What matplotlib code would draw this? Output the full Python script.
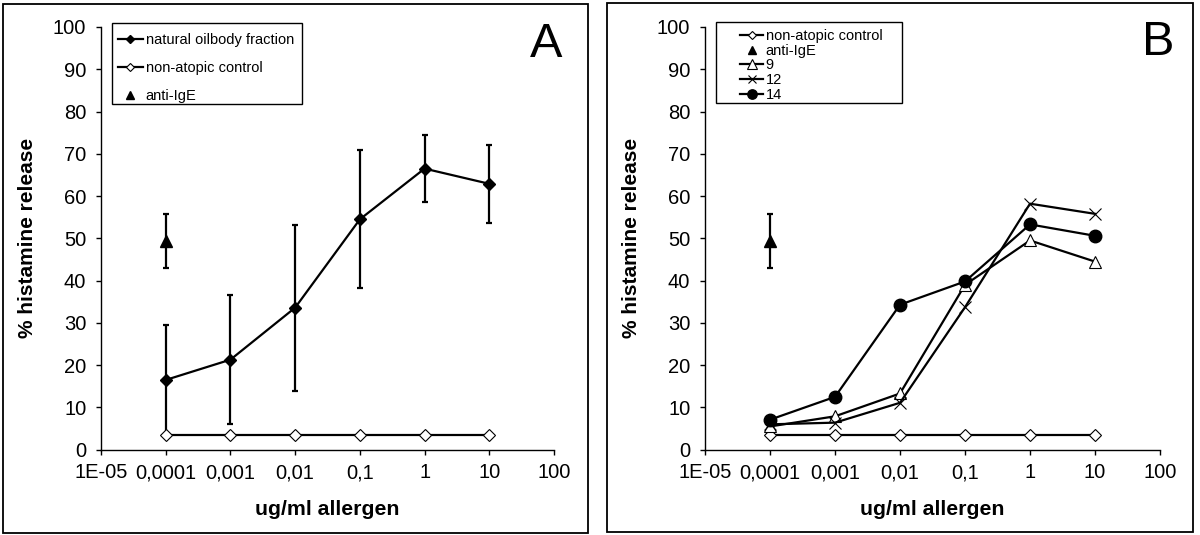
import matplotlib
matplotlib.use("Agg")
import matplotlib.pyplot as plt
from matplotlib.patches import Rectangle
from matplotlib.ticker import NullLocator

plt.rcParams['font.family'] = ['Liberation Sans', 'DejaVu Sans']

# allergen concentrations (ug/ml)
conc = [0.0001, 0.001, 0.01, 0.1, 1, 10]
tick_pos = [1e-5, 1e-4, 1e-3, 1e-2, 1e-1, 1, 10, 100]
tick_labels = ['1E-05', '0,0001', '0,001', '0,01', '0,1', '1', '10', '100']

# panel A
oilbody = [16.5, 21.3, 33.6, 54.5, 66.5, 62.9]
oilbody_err = [13.1, 15.3, 19.6, 16.3, 7.95, 9.3]
control = [3.5, 3.5, 3.5, 3.5, 3.5, 3.5]
anti_ige_x = [0.0001]
anti_ige = [49.4]
anti_ige_err = [6.4]

# panel B (patients 9, 12, 14)
pat9 = [5.5, 7.9, 13.3, 39.0, 49.5, 44.5]
pat12 = [6.0, 6.4, 11.1, 33.7, 58.2, 55.8]
pat14 = [7.1, 12.5, 34.3, 39.8, 53.3, 50.6]

W, H = 1200, 535


def fig_rect(x0, y0, x1, y1):
    # pixel box (top-left origin) -> figure fraction rect
    return [x0 / W, 1 - y1 / H, (x1 - x0) / W, (y1 - y0) / H]


def style_axes(ax):
    ax.set_xscale('log')
    ax.set_xlim(1e-5, 100)
    ax.set_ylim(0, 100)
    ax.set_xticks(tick_pos)
    ax.set_xticklabels(tick_labels)
    ax.xaxis.set_minor_locator(NullLocator())
    ax.set_yticks(range(0, 101, 10))
    for s in ['top', 'right']:
        ax.spines[s].set_visible(False)
    for s in ['left', 'bottom']:
        ax.spines[s].set_linewidth(1.0)
    ax.tick_params(direction='out', length=3.6, width=1.0, labelsize=14.5)
    ax.tick_params(axis='x', pad=6)
    ax.tick_params(axis='y', pad=7)
    ax.set_xlabel('ug/ml allergen', fontsize=15.3, fontweight='bold')
    ax.set_ylabel('% histamine release', fontsize=15, fontweight='bold')
    ax.xaxis.set_label_coords(0.5, -0.119)
    ax.yaxis.set_label_coords(-0.141, 0.5)


def plot_anti_ige(ax):
    ax.errorbar(anti_ige_x, anti_ige, yerr=anti_ige_err, fmt='none', ecolor='black',
                elinewidth=1.6, capsize=2, capthick=1.6, zorder=2)
    ax.plot(anti_ige_x, anti_ige, ls='none', marker='^', ms=8.5, color='black',
            zorder=5, label='anti-IgE')


def box(fig, x0, y0, x1, y1, lw):
    fig.add_artist(Rectangle((x0 / W, 1 - y1 / H), (x1 - x0) / W, (y1 - y0) / H,
                             transform=fig.transFigure, fill=False, ec='black', lw=lw))


fig = plt.figure(figsize=(12, 5.35), dpi=100)

# ---- panel A ----
axA = fig.add_axes(fig_rect(101, 27, 554, 449.7))
style_axes(axA)
axA.errorbar(conc, oilbody, yerr=oilbody_err, fmt='none', ecolor='black',
             elinewidth=1.6, capsize=2, capthick=1.6, zorder=2)
axA.plot(conc, oilbody, '-', color='black', lw=1.6, marker='D', ms=6,
         mfc='black', mec='black', zorder=3, label='natural oilbody fraction')
axA.plot(conc, control, '-', color='black', lw=1.6, marker='D', ms=6,
         mfc='white', mec='black', mew=0.8, zorder=4, label='non-atopic control')
plot_anti_ige(axA)
axA.legend(loc='upper left', bbox_to_anchor=(118 / W, 1 - 33 / H),
           bbox_transform=fig.transFigure, frameon=False, borderpad=0,
           borderaxespad=0, fontsize=10.5, handlelength=1.7, handletextpad=0.2,
           labelspacing=0.96, markerscale=0.75, numpoints=1)

# ---- panel B ----
axB = fig.add_axes(fig_rect(705, 27, 1160, 449.7))
style_axes(axB)
axB.plot(conc, control, '-', color='black', lw=1.6, marker='D', ms=6,
         mfc='white', mec='black', mew=0.8, zorder=3, label='non-atopic control')
plot_anti_ige(axB)
axB.plot(conc, pat9, '-', color='black', lw=1.6, marker='^', ms=9,
         mfc='white', mec='black', mew=0.8, zorder=4, label='9')
axB.plot(conc, pat12, '-', color='black', lw=1.6, marker='x', ms=8,
         mec='black', mew=0.8, zorder=4, label='12')
axB.plot(conc, pat14, '-', color='black', lw=1.6, marker='o', ms=9,
         mfc='black', mec='black', zorder=4, label='14')
axB.legend(loc='upper left', bbox_to_anchor=(740 / W, 1 - 29 / H),
           bbox_transform=fig.transFigure, frameon=False, borderpad=0,
           borderaxespad=0, fontsize=10.5, handlelength=1.6, handletextpad=0.15,
           labelspacing=0.05, markerscale=0.75, numpoints=1)

# legend boxes, panel frames and panel letters
box(fig, 111.7, 23.3, 301.7, 104.3, 1.0)
box(fig, 716, 22.3, 901.7, 103.3, 1.0)
box(fig, 3.3, 4, 588.3, 532.5, 1.3)
box(fig, 607.3, 3, 1193.3, 531.7, 1.3)
fig.text(546 / W, 1 - 56.7 / H, 'A', fontsize=35, ha='center', va='baseline')
fig.text(1158 / W, 1 - 55 / H, 'B', fontsize=35, ha='center', va='baseline')

fig.savefig('out.png', dpi=100, facecolor='white')
